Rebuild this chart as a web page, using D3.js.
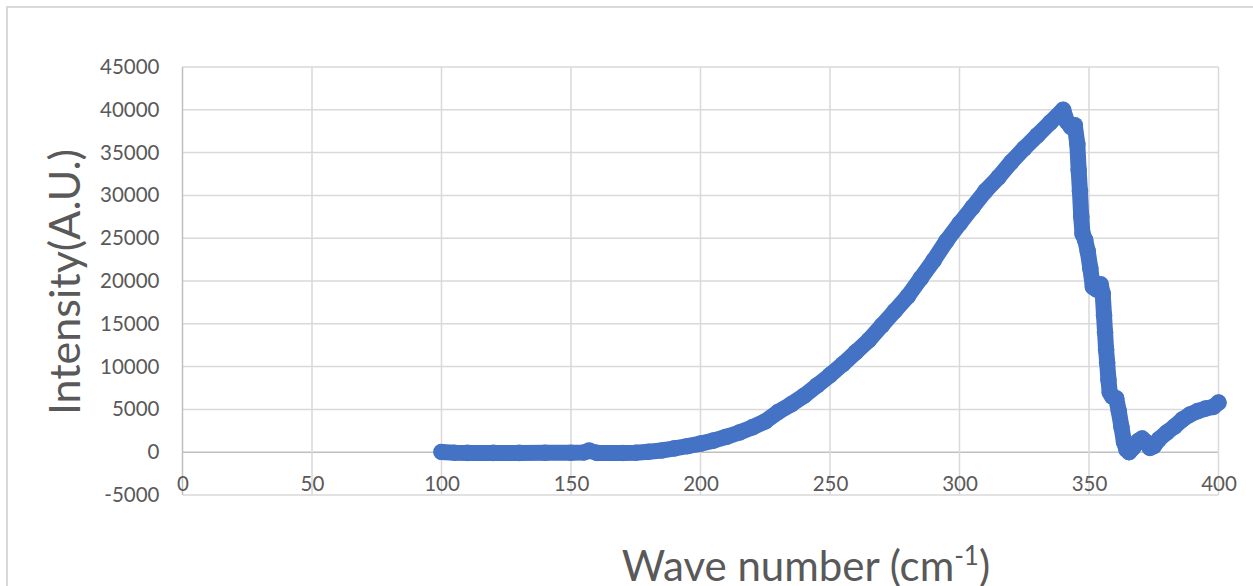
<!DOCTYPE html>
<html>
<head>
<meta charset="utf-8">
<script src="https://cdn.jsdelivr.net/npm/d3@7"></script>
<style>
  body { margin: 0; background: #fff; }
  svg { display: block; }
  .tick text { font-family: Lato, "Open Sans", sans-serif; fill: #595959; }
</style>
</head>
<body>
<svg id="chart" width="1253" height="586"></svg>
<script>
// ---- data ----
const waveNumber = [100,105,110,120,130,140,150,155,157,160,170,175,180,185,190,195,200,205,210,215,220,225,230,235,240,245,250,255,260,265,270,275,280,285,290,295,300,305,310,315,320,325,330,335,340,
  341.5,343,344.5,345.5,346,346.5,347,347.5,348.5,349.5,350.5,351.5,353,354.5,355.3,355.8,356.2,356.6,357,357.5,358,359,360.5,361.5,362.5,363.5,364.5,365.5,367,369,370.5,372,373.5,375,377,380,383,386,389,392,395,398,400];
const intensity = [30,-60,-80,-80,-80,-70,-60,-30,180,-80,-90,-60,60,200,450,700,1000,1350,1800,2300,2900,3600,4700,5600,6600,7800,9000,10300,11700,13100,14800,16500,18200,20300,22400,24700,26700,28600,30500,32100,33900,35500,37000,38500,40000,
  38600,38000,38200,36000,33000,30500,27500,25500,24800,23500,21500,19300,19000,19600,18500,16000,14000,12000,10500,8500,7000,6500,6300,4800,3000,1200,300,0,500,1300,1600,1200,500,700,1500,2300,3000,3800,4400,4800,5100,5300,5800];
const xTicks = [0,50,100,150,200,250,300,350,400];
const yTicks = [-5000,0,5000,10000,15000,20000,25000,30000,35000,40000,45000];
const xTitle = "Wave number (cm";
const xTitleSup = "-1";
const yTitle = "Intensity(A.U.)";

// ---- layout ----
const svg = d3.select("#chart");
const pLeft = 182.5, pRight = 1218.5, pTop = 67, pBottom = 495;
const x = d3.scaleLinear().domain([0, 400]).range([pLeft, pRight]);
const y = d3.scaleLinear().domain([-5000, 45000]).range([pBottom, pTop]);
const grid = "#d9d9d9", axisCol = "#bfbfbf", txt = "#595959", blue = "#4472C4";
const fmt = d => String(d);

// chart border
svg.append("rect").attr("x", 7).attr("y", 7).attr("width", 1300).attr("height", 700)
  .attr("fill", "none").attr("stroke", grid).attr("stroke-width", 2);

// horizontal gridlines
svg.append("g").selectAll("line").data(yTicks).join("line")
  .attr("x1", pLeft).attr("x2", pRight)
  .attr("y1", d => y(d)).attr("y2", d => y(d))
  .attr("stroke", d => d === 0 ? axisCol : grid).attr("stroke-width", 1.5);
// vertical gridlines
svg.append("g").selectAll("line").data(xTicks).join("line")
  .attr("x1", d => x(d)).attr("x2", d => x(d))
  .attr("y1", pTop).attr("y2", pBottom)
  .attr("stroke", d => d === 0 ? axisCol : grid).attr("stroke-width", 1.5);

// y axis labels
const yAxis = svg.append("g").attr("transform", `translate(${pLeft},0)`)
  .call(d3.axisLeft(y).tickValues(yTicks).tickFormat(fmt).tickSize(0).tickPadding(23));
yAxis.select(".domain").remove();
yAxis.selectAll("text").style("font-size", "20.5px");

// x axis labels (axis crosses at 0)
const xAxis = svg.append("g").attr("transform", `translate(0,${y(0)})`)
  .call(d3.axisBottom(x).tickValues(xTicks).tickFormat(fmt).tickSize(0).tickPadding(24));
xAxis.select(".domain").remove();
xAxis.selectAll("text").style("font-size", "20.5px");

// series
const pts = waveNumber.map((w, i) => [w, intensity[i]]);
svg.append("path").datum(pts)
  .attr("fill", "none").attr("stroke", blue).attr("stroke-width", 16)
  .attr("stroke-linejoin", "round").attr("stroke-linecap", "round")
  .attr("d", d3.line().x(d => x(d[0])).y(d => y(d[1])));
svg.append("g").selectAll("circle").data(pts).join("circle")
  .attr("cx", d => x(d[0])).attr("cy", d => y(d[1])).attr("r", 8.3)
  .attr("fill", blue);

// axis titles
svg.append("text")
  .attr("transform", `translate(80,282) rotate(-90)`)
  .attr("text-anchor", "middle")
  .attr("font-family", "Lato, 'Open Sans', sans-serif")
  .attr("font-size", 43).attr("fill", txt)
  .text(yTitle);

const xt = svg.append("text")
  .attr("x", 806).attr("y", 581)
  .attr("text-anchor", "middle")
  .attr("font-family", "Lato, 'Open Sans', sans-serif")
  .attr("font-size", 42).attr("fill", txt);
xt.append("tspan").text(xTitle);
xt.append("tspan").attr("font-size", 26).attr("dy", -16).text(xTitleSup);
xt.append("tspan").attr("dy", 16).text(")");
</script>
</body>
</html>
